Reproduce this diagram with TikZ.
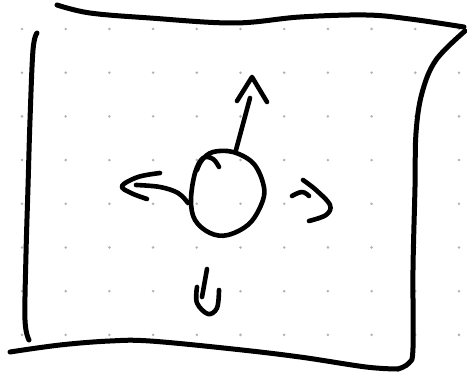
\documentclass[tikz,border=0pt]{standalone}
\begin{document}
\begin{tikzpicture}[x=1pt,y=-1pt,
  pen/.style={line width=5pt,line cap=round,line join=round,black},
  thinpen/.style={pen,line width=4.6pt},
  griddot/.style={fill=black!30,draw=none}]
\useasboundingbox (0,0) rectangle (467,374);
\fill[white] (0,0) rectangle (467,374);
% dot grid
\foreach \i in {0,...,10}{
  \foreach \j in {0,...,7}{
    \fill[griddot] ({22+43.7*\i},{29+43.7*\j}) circle (1.4);
  }
}
% frame
\draw[pen] plot[smooth,tension=0.6] coordinates {(57,5) (90,13) (150,18) (234,23) (300,17) (366,15) (410,19) (464,27)};
\draw[pen] plot[smooth,tension=0.6] coordinates {(465,31) (436,60) (422,93) (416,133) (415,187) (413,270) (413,348) (409,363) (398,369)};
\draw[pen] plot[smooth,tension=0.6] coordinates {(398,369) (366,367) (300,357) (233,349) (150,341) (110,341) (60,345) (10,352)};
\draw[pen] plot[smooth,tension=0.6] coordinates {(37,33) (33,50) (30,120) (28,187) (26,254) (25,320) (29,340)};
% circle
\draw[thinpen] plot[smooth,tension=0.6] coordinates {(219,167) (213,159) (203,158) (195,173) (191,200) (195,220) (210,233) (228,235) (250,223) (263,200) (263,183) (253,163) (233,152) (213,152) (202,160) (197,170)};
% up arrow
\draw[thinpen] (236,150) -- (250,98);
\draw[thinpen] (237,101) -- (252,77) -- (267,102);
% left arrow
\draw[thinpen] plot[smooth,tension=0.6] coordinates {(188,203) (178,193) (160,187) (136,185)};
\draw[thinpen] plot[smooth,tension=0.6] coordinates {(160,173) (138,177) (122,186) (131,193) (147,199)};
% right squiggle
\draw[thinpen] plot[smooth,tension=0.7] coordinates {(292,196) (302,192) (309,196)};
\draw[thinpen] plot[smooth,tension=0.6] coordinates {(303,180) (316,190) (330,205) (326,215) (309,221)};
% down arrow
\draw[thinpen] (207,269) -- (202,297);
\draw[thinpen] plot[smooth,tension=0.6] coordinates {(197,287) (197,303) (208,314) (217,308) (219,290)};
\end{tikzpicture}
\end{document}
